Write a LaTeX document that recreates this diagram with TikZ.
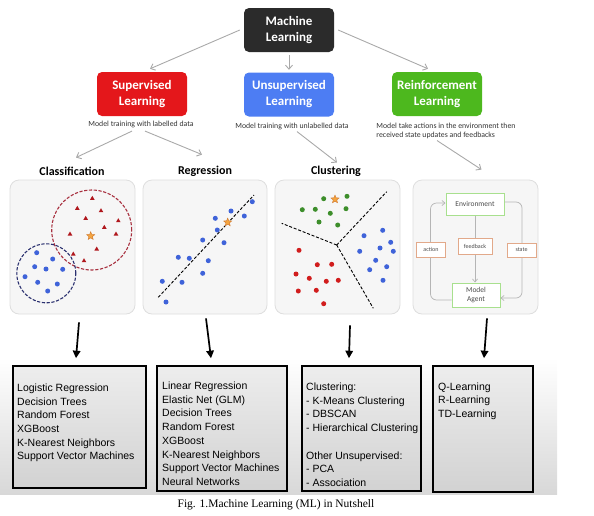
\documentclass[tikz,border=0pt]{standalone}
\usepackage{fontspec}
\setmainfont{Liberation Sans}
\newfontfamily\calfont{Carlito}
\newfontfamily\timesfont{Liberation Serif}
\usetikzlibrary{arrows.meta,shapes.geometric}

\definecolor{mldark}{HTML}{2B2B2B}
\definecolor{supred}{HTML}{E4171B}
\definecolor{unsupblue}{HTML}{4D7DF3}
\definecolor{rlgreen}{HTML}{4DB81E}
\definecolor{arrowgray}{HTML}{A9A9A9}
\definecolor{panelfill}{HTML}{F6F6F6}
\definecolor{panelline}{HTML}{DEDEDE}
\definecolor{dotblue}{HTML}{3F63D9}
\definecolor{dotred}{HTML}{D11D1D}
\definecolor{dotgreen}{HTML}{3D8E2B}
\definecolor{trired}{HTML}{B0171D}
\definecolor{ringred}{HTML}{A8303F}
\definecolor{ringblue}{HTML}{2B3170}
\definecolor{starfill}{HTML}{F5A540}
\definecolor{starline}{HTML}{D0772A}
\definecolor{envgreen}{HTML}{A8E08E}
\definecolor{tagline}{HTML}{E2A98A}
\definecolor{loopgray}{HTML}{B5B5B5}
\definecolor{listtop}{HTML}{EDEDED}
\definecolor{listbot}{HTML}{D2D2D2}
\definecolor{bggray}{HTML}{D8D8D8}

\tikzset{
    mlbox/.style={rounded corners=5pt, minimum width=90pt, minimum height=44pt, inner sep=0pt,
        align=center, text=white, font=\calfont\bfseries\fontsize{13}{16}\selectfont},
    smallcap/.style={inner sep=0pt, text=black!80, font=\calfont\fontsize{7.8}{9}\selectfont},
    plotlabel/.style={inner sep=0pt, font=\calfont\bfseries\fontsize{12}{14}\selectfont},
    panelbox/.style={draw=panelline, fill=panelfill, line width=0.8pt, rounded corners=9pt,
        minimum height=134pt},
    listbox/.style={draw=black, line width=2.4pt, outer sep=0pt, top color=listtop, bottom color=listbot},
    listtext/.style={anchor=north west, inner sep=0pt, align=left, font=\fontsize{10.5}{13.7}\selectfont},
    envbox/.style={draw=envgreen, fill=white, line width=1pt, inner sep=0pt, align=center,
        text=black!70, font=\calfont\fontsize{7.5}{9}\selectfont},
    tagbox/.style={draw=tagline, fill=white, line width=1pt, inner sep=0pt, text=black!70,
        font=\calfont\fontsize{6}{7}\selectfont},
    grayarrow/.style={draw=arrowgray, line width=0.9pt, -{Straight Barb[length=4pt,width=7pt]}},
    blackarrow/.style={line width=1.7pt, -{Triangle[length=7.5pt,width=7.5pt]}},
    looparrow/.style={draw=loopgray, line width=0.7pt, rounded corners=6pt,
        -{Straight Barb[length=3pt,width=5pt]}},
    ring/.style={line width=1.1pt, dash pattern=on 3.2pt off 1.6pt},
    splitline/.style={line width=0.9pt, dash pattern=on 3pt off 1.8pt},
    starmark/.style={star, star points=5, star point ratio=2.3, minimum size=8.5pt, inner sep=0pt,
        fill=starfill, draw=starline, line width=0.4pt}
}

\begin{document}
\begin{tikzpicture}[x=1pt, y=-1pt]
    \useasboundingbox (0,0) rectangle (594,515);
    \shade[top color=white, bottom color=bggray] (0,358) rectangle (557,494);

    \node[mlbox, fill=mldark] (ml) at (289,30) {Machine\\Learning};
    \node[mlbox, fill=supred] (sup) at (142,94) {Supervised\\Learning};
    \node[mlbox, fill=unsupblue] (unsup) at (289,94.5) {Unsupervised\\Learning};
    \node[mlbox, fill=rlgreen] (rl) at (437,94) {Reinforcement\\Learning};

    \draw[grayarrow] ([xshift=-4pt]ml.west) -- ([xshift=8pt,yshift=3pt]sup.north);
    \draw[grayarrow, shorten <=3pt, shorten >=2.5pt] (ml.south) -- (unsup.north);
    \draw[grayarrow] ([xshift=4pt]ml.east) -- ([xshift=-9pt,yshift=3pt]rl.north);

    \node[smallcap] (supcap) at (141,124.5) {Model training with labelled data};
    \node[smallcap] (unsupcap) at (292,126) {Model training with unlabelled data};
    \node[smallcap, align=left] (rlcap) at (446,130.5) {Model take actions in the environment then\\received state updates and feedbacks};

    \node[plotlabel] (cls) at (72,171) {Classification};
    \node[plotlabel] (reg) at (205,171) {Regression};
    \node[plotlabel] (clu) at (336,171) {Clustering};

    \draw[grayarrow] ([xshift=-9pt,yshift=-3pt]supcap.south) -- ([xshift=4pt,yshift=9pt]cls.north);
    \draw[grayarrow] ([xshift=4pt,yshift=-3pt]supcap.south) -- ([xshift=-3pt,yshift=11pt]reg.north);
    \draw[grayarrow] ([xshift=5pt,yshift=-2pt]unsupcap.south) -- ([xshift=1pt,yshift=3pt]clu.north);

    \node[panelbox, minimum width=125pt] (p1) at (72.5,247) {};
    \node[panelbox, minimum width=124pt] (p2) at (205,247) {};
    \node[panelbox, minimum width=125pt] (p3) at (337.5,247) {};
    \node[panelbox, minimum width=125pt] (p4) at (475.5,247) {};

    \draw[grayarrow] ([xshift=-9pt,yshift=-2pt]rlcap.south) -- ([xshift=6pt,yshift=10pt]p4.north);

    \draw[ring, draw=ringred] (91.7,230) circle (40pt);
    \draw[ring, draw=ringblue] (46.3,273.3) circle (29.5pt);
    \foreach \x/\y in {92.3/198.3, 77.3/208.3, 101/210.7, 85.7/218.3, 118.3/220.7, 104.3/227.3,
            70/234, 116/234, 96.7/249, 73.3/254, 84/260.7}
        \fill[trired] (\x,\y) ++(0,-2.5) -- ++(2.3,4) -- ++(-4.6,0) -- cycle;
    \foreach \x/\y in {36.7/252.7, 52.7/259, 34.7/266.7, 46/269, 62.7/269.3, 25/276.7,
            37.7/282.3, 57.3/284, 47.7/291}
        \fill[dotblue] (\x,\y) circle (2.5pt);
    \node[starmark] (star1) at (90.7,236) {};

    \draw[splitline] (158.3,297.3) -- (254,195);
    \foreach \x/\y in {252.3/201.7, 231/211, 244.3/216, 215.3/218.3, 217.3/230, 202.7/240,
            224/242.7, 178.3/257.3, 189.3/258.3, 208.3/260.7, 202.7/273.3, 162.3/281.3,
            182/282.3, 166/302}
        \fill[dotblue] (\x,\y) circle (2.5pt);
    \node[starmark] (star2) at (227.7,222.3) {};

    \coordinate (mid) at (336.7,245);
    \draw[splitline] (mid) -- (386.7,191.7);
    \draw[splitline] (mid) -- (281.7,223.3);
    \draw[splitline] (mid) -- (373.3,308.3);
    \foreach \x/\y in {323.7/198.7, 347/196.3, 302.3/209.7, 315.3/209.3, 330.3/213.3,
            346/208.7, 319/222, 337.7/225}
        \fill[dotgreen] (\x,\y) circle (2.5pt);
    \foreach \x/\y in {382.7/230.3, 364/235.7, 390.7/242.3, 359.7/251.3, 380/248, 393.3/251.3,
            375.7/260.3, 369.7/269.7, 386.7/266.7, 383/280.3}
        \fill[dotblue] (\x,\y) circle (2.5pt);
    \foreach \x/\y in {299/250.3, 317.3/264.7, 331.7/264.3, 296/274, 309.3/278.3, 326.3/281.3,
            338.3/280.3, 298.3/291, 316.3/290.3, 323.7/303.7}
        \fill[dotred] (\x,\y) circle (2.5pt);
    \node[starmark] (star3) at (335,199.3) {};

    \node[envbox, minimum width=58pt, minimum height=22pt] (env) at (475,204) {Environment};
    \node[envbox, minimum width=48pt, minimum height=24pt] (agent) at (476,295) {Model\\Agent};
    \draw[looparrow] ([yshift=-5pt]agent.west) -| ([xshift=-15pt,yshift=1pt]env.west) -- ([yshift=1pt]env.west);
    \draw[looparrow] ([yshift=2pt]env.east) -| ([xshift=21.5pt,yshift=-3pt]agent.east) -- ([yshift=-3pt]agent.east);
    \draw[looparrow] (env.south) -- (env.south |- agent.north);
    \node[tagbox, minimum width=29pt, minimum height=15pt] (act) at (431,249.5) {action};
    \node[tagbox, minimum width=34pt, minimum height=16pt] (fb) at (475,246) {feedback};
    \node[tagbox, minimum width=29pt, minimum height=14pt] (st) at (521.5,250) {state};

    \node[listbox, minimum width=132.6pt, minimum height=121.6pt] (b1) at (79.5,427) {};
    \node[listbox, minimum width=129.6pt, minimum height=124.6pt] (b2) at (222,428.5) {};
    \node[listbox, minimum width=118.6pt, minimum height=124.6pt] (b3) at (361.5,428.5) {};
    \node[listbox, minimum width=99.6pt, minimum height=125.6pt] (b4) at (483,429) {};

    \node[listtext] (t1) at ([xshift=3.8pt,yshift=-17.3pt]b1.north west) {Logistic Regression\\Decision Trees\\Random Forest\\XGBoost\\K-Nearest Neighbors\\Support Vector Machines};
    \node[listtext] (t2) at ([xshift=4.8pt,yshift=-15.5pt]b2.north west) {Linear Regression\\Elastic Net (GLM)\\Decision Trees\\Random Forest\\XGBoost\\K-Nearest Neighbors\\Support Vector Machines\\Neural Networks};
    \node[listtext] (t3) at ([xshift=3.8pt,yshift=-16.5pt]b3.north west) {Clustering:\\- K-Means Clustering\\- DBSCAN\\- Hierarchical Clustering\\[13.7pt]Other Unsupervised:\\- PCA\\- Association};
    \node[listtext] (t4) at ([xshift=4.8pt,yshift=-16.1pt]b4.north west) {Q-Learning\\R-Learning\\TD-Learning};

    \draw[blackarrow] ([xshift=6.5pt,yshift=-8pt]p1.south) -- ([xshift=-3.5pt,yshift=8pt]b1.north);
    \draw[blackarrow] ([xshift=1pt,yshift=-4pt]p2.south) -- ([xshift=-11pt,yshift=8pt]b2.north);
    \draw[blackarrow] ([xshift=12.5pt,yshift=-11pt]p3.south) -- ([xshift=-12.5pt,yshift=8pt]b3.north);
    \draw[blackarrow] ([xshift=11.5pt,yshift=-4pt]p4.south) -- ([xshift=1pt,yshift=8pt]b4.north);

    \node[font=\timesfont\fontsize{11.5}{13}\selectfont, inner sep=0pt] (fig) at (276,505) {Fig. 1.Machine Learning (ML) in Nutshell};
\end{tikzpicture}
\end{document}
